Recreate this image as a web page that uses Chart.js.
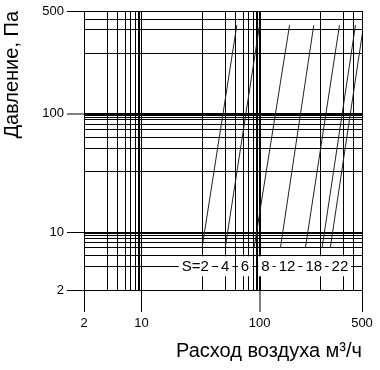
<!DOCTYPE html>
<html>
<head>
<meta charset="utf-8">
<script src="https://cdn.jsdelivr.net/npm/chart.js@4.4.1/dist/chart.umd.min.js"></script>
<style>
  body { margin: 0; background: #fff; }
</style>
</head>
<body>
<canvas id="ductChart" width="380" height="370"></canvas>
<script>
// S sizes and the air flow at the low / high end of each line
const sizeLabels = ['S=2', '4', '6', '8', '12', '18', '22'];
const flowLow = [20, 30, 72, 127, 169, 207, 239];
const flowHigh = [41, 100, 141, 186, 281, 417, 530];
const pressureEnds = [5, 340];

// where the S labels sit (flow, pressure)
const labelFlow = [18.5, 30, 52, 107, 137, 186, 283];
const labelPressure = 3;

const gridValues = [2, 3, 4, 5, 6, 7, 8, 9, 10, 20, 30, 40, 50, 60, 70, 80, 90, 100, 200, 300, 400, 500];
const tickLabels = [2, 10, 100, 500];

// the printed nomogram squeezes every decade the same uneven way
const decadeMantissa = [1, 2, 3, 4, 5, 6, 7, 8, 9, 10];
const decadeFraction = [0, 0.513, 0.709, 0.80, 0.868, 0.91, 0.949, 0.972, 0.986, 1];

function warp(v) {
  const d = Math.floor(Math.log10(v) + 1e-9);
  const m = v / Math.pow(10, d);
  let i = 0;
  while (i < 8 && m >= decadeMantissa[i + 1]) i++;
  const t = Math.log10(m / decadeMantissa[i]) / Math.log10(decadeMantissa[i + 1] / decadeMantissa[i]);
  return d + decadeFraction[i] + t * (decadeFraction[i + 1] - decadeFraction[i]);
}

function unwarp(u) {
  const d = Math.floor(u);
  const f = u - d;
  let i = 0;
  while (i < 8 && f >= decadeFraction[i + 1]) i++;
  const t = (f - decadeFraction[i]) / (decadeFraction[i + 1] - decadeFraction[i]);
  const m = decadeMantissa[i] * Math.pow(decadeMantissa[i + 1] / decadeMantissa[i], t);
  return m * Math.pow(10, d);
}

class NomogramScale extends Chart.Scale {
  determineDataLimits() {
    this.min = this.options.min;
    this.max = this.options.max;
  }

  buildTicks() {
    return gridValues.filter(v => v >= this.min && v <= this.max).map(v => ({ value: v }));
  }

  configure() {
    super.configure();
    this._uStart = warp(this.min);
    this._uRange = warp(this.max) - this._uStart;
  }

  getLabelForValue(value) {
    return String(value);
  }

  getPixelForValue(value) {
    return this.getPixelForDecimal((warp(value) - this._uStart) / this._uRange);
  }

  getValueForPixel(pixel) {
    return unwarp(this._uStart + this.getDecimalForPixel(pixel) * this._uRange);
  }
}
NomogramScale.id = 'nomogram';
NomogramScale.defaults = {};
Chart.register(NomogramScale);

const fontFamily = "'Liberation Sans', Arial, sans-serif";

const sizeLabelPlugin = {
  id: 'sizeLabels',
  afterDatasetsDraw(chart) {
    const { ctx, scales: { x, y } } = chart;
    ctx.save();
    ctx.font = "15px 'Liberation Sans Narrow', 'Liberation Sans', sans-serif";
    ctx.textAlign = 'center';
    ctx.textBaseline = 'middle';
    const cy = y.getPixelForValue(labelPressure);
    sizeLabels.forEach((text, i) => {
      const cx = x.getPixelForValue(labelFlow[i]);
      const w = ctx.measureText(text).width;
      ctx.fillStyle = '#fff';
      ctx.fillRect(cx - w / 2 - 3, cy - 10.5, w + 6, 20);
      ctx.fillStyle = '#000';
      ctx.fillText(text, cx, cy + 0.5);
    });
    ctx.restore();
  }
};

const gridWidth = ctx => (ctx.tick && ctx.tick.value === 100 ? 2 : 1);
const tickMarkColor = ctx => (ctx.tick && tickLabels.includes(ctx.tick.value) ? '#000' : 'rgba(0,0,0,0)');
const tickText = value => (tickLabels.includes(value) ? String(value) : '');

const datasets = sizeLabels.map((label, i) => ({
  label: label,
  data: [
    { x: flowLow[i], y: pressureEnds[0] },
    { x: flowHigh[i], y: pressureEnds[1] }
  ],
  showLine: true,
  borderColor: '#222',
  borderWidth: 1,
  pointRadius: 0
}));

const ctx = document.getElementById('ductChart').getContext('2d');
new Chart(ctx, {
  type: 'scatter',
  data: { datasets: datasets },
  plugins: [sizeLabelPlugin],
  options: {
    responsive: false,
    animation: false,
    layout: { padding: { top: 11, right: 18, left: 0, bottom: 0 } },
    plugins: {
      legend: { display: false },
      tooltip: { enabled: false }
    },
    scales: {
      x: {
        type: 'nomogram',
        position: 'bottom',
        min: 2,
        max: 500,
        grid: { color: '#000', lineWidth: gridWidth, tickLength: 22, tickWidth: 1, tickColor: tickMarkColor },
        border: { display: false },
        ticks: {
          autoSkip: false,
          maxRotation: 0,
          padding: 4,
          color: '#000',
          font: { family: fontFamily, size: 13 },
          callback: tickText
        },
        title: {
          display: true,
          text: 'Расход воздуха м³/ч',
          align: 'end',
          color: '#000',
          font: { family: fontFamily, size: 20 },
          padding: { top: 0, bottom: 7 }
        },
        afterFit: scale => { scale.height = 80; }
      },
      y: {
        type: 'nomogram',
        position: 'left',
        min: 2,
        max: 500,
        grid: { color: '#000', lineWidth: gridWidth, tickLength: 17, tickWidth: 1, tickColor: tickMarkColor },
        border: { display: false },
        ticks: {
          autoSkip: false,
          padding: 3,
          color: '#000',
          font: { family: fontFamily, size: 13 },
          callback: tickText
        },
        title: {
          display: true,
          text: 'Давление, Па',
          align: 'end',
          color: '#000',
          font: { family: fontFamily, size: 20 },
          padding: { top: 0, bottom: 0 }
        },
        afterFit: scale => { scale.width = 84; }
      }
    }
  }
});
</script>
</body>
</html>
